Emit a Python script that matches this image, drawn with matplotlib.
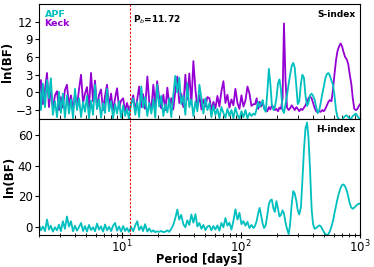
import numpy as np
import matplotlib
matplotlib.use("Agg")
import matplotlib.pyplot as plt

# period grid (days): noisy short-period part and long-period part
period_short = [2.00, 2.08, 2.16, 2.25, 2.34, 2.43, 2.52, 2.62, 2.73, 2.84,
                2.95, 3.06, 3.18, 3.31, 3.44, 3.58, 3.72, 3.87, 4.02, 4.18,
                4.35, 4.52, 4.70, 4.88, 5.07, 5.27, 5.48, 5.70, 5.92, 6.16,
                6.40, 6.65, 6.92, 7.19, 7.47, 7.77, 8.08, 8.40, 8.73, 9.07,
                9.43, 9.80, 10.2, 10.6, 11.0, 11.4, 11.9, 12.4, 12.9, 13.4,
                13.9, 14.5, 15.0, 15.6, 16.3, 16.9, 17.6, 18.3, 19.0, 19.7,
                20.5, 21.3, 22.2, 23.1, 24.0, 24.9, 25.9, 26.9, 28.0, 29.1,
                30.2, 31.4, 32.7, 34.0, 35.3, 36.7, 38.2, 39.7, 41.3, 42.9,
                44.6, 46.4, 48.2, 50.1, 52.1, 54.2, 56.3, 58.5, 60.8, 63.2,
                65.7, 68.3, 71.0, 73.8, 76.7, 79.7, 82.9, 86.1, 89.5, 93.1,
                96.8, 100.6, 104.6, 108.7, 113, 117.5, 122.1, 127]
period_long = [131, 135, 139, 143, 147, 152, 156, 161, 166, 171,
               176, 181, 187, 192, 198, 204, 210, 216, 223, 229,
               236, 243, 251, 258, 266, 274, 282, 291, 299, 308,
               318, 327, 337, 347, 358, 368, 379, 391, 402, 414,
               427, 440, 453, 466, 480, 495, 510, 525, 541, 557,
               574, 591, 608, 627, 645, 665, 685, 705, 726, 748,
               771, 794, 818, 842, 867, 893, 920, 948, 976, 1000]

# S-index, APF
s_apf_short = [2.4, -3.0, 1.5, -2.5, 2.1, -1.0, 2.4, -3.8, -1.5, -4.2,
               0.1, -3.5, -0.2, -4.3, -0.5, -3.6, -1.2, -4.4, 0.6, -3.0,
               -1.0, -4.2, -1.6, -3.3, -0.6, -4.4, -1.4, -3.8, 1.3, -2.8,
               -1.2, -4.3, -1.8, -3.5, 0.6, -3.2, -1.5, -4.4, -2.0, -3.6,
               -1.5, -4.3, -2.2, -4.0, -2.8, -4.5, -2.0, -1.0, -3.8, -1.6,
               -4.2, 1.0, -2.6, -0.8, -4.0, -1.8, -3.6, -1.2, -4.3, 1.3,
               -2.4, -0.6, -4.0, -2.0, -3.4, -1.0, -4.2, -0.5, 2.8, 0.0,
               2.5, -2.0, -0.6, -3.8, 1.5, -2.5, -1.2, -4.0, -1.5, -3.2,
               1.3, -1.0, -3.6, -1.0, -3.0, -1.8, -4.2, -2.2, -3.8, -2.8,
               -4.4, -2.5, -3.5, -4.3, -2.8, -4.0, -3.0, -4.4, -2.6, -3.8,
               -4.5, -3.2, -4.2, -3.0, -4.4, -3.5, -4.0, -3.6]
s_apf_long = [-3.8, -2.8, -1.6, -2.5, -2.0, -1.3, -2.8, -3.3, 0.0, 4.0,
              1.5, -2.0, -3.0, -2.5, -1.0, 1.5, 2.2, 0.5, -3.0, -3.5,
              -2.0, -0.5, 1.5, 3.0, 4.5, 5.0, 4.2, 1.0, -2.0, -1.5,
              1.5, 3.0, 2.5, -0.5, -2.3, -1.8, -0.5, -0.2, -0.6, -1.2,
              -2.5, -3.5, -3.0, -1.8, -0.3, 1.0, 2.4, 3.1, 3.3, 2.8,
              2.0, 1.3, -0.5, -3.0, -4.2, -4.6, -4.8, -4.6, -4.3, -4.0,
              -3.9, -4.2, -4.5, -4.4, -4.0, -3.8, -3.6, -4.0, -4.4, -4.5]

# S-index, Keck
s_keck_short = [-1.0, 2.1, -2.0, 0.5, 3.3, -2.5, 0.8, -2.8, -0.5, 0.2,
                -3.0, -0.8, -2.6, 0.4, 1.3, -2.2, -0.5, -3.0, -0.3, -2.4,
                0.6, 3.0, -1.8, -0.2, 0.9, -2.6, 3.3, -1.5, 2.0, -2.8,
                -0.4, 0.5, -3.0, -0.6, 1.3, -2.4, -0.2, -3.1, -1.0, 0.7,
                -2.7, -1.4, -1.0, -3.2, -1.8, -3.0, -2.0, -0.5, -3.1, -1.2,
                1.0, -2.5, -0.3, -2.8, 2.7, -1.6, -2.9, 1.3, -2.2, 1.9,
                -1.0, -2.7, -0.4, -3.0, 0.8, -2.3, -1.0, -2.9, 0.2, 2.7,
                -1.8, -0.2, -2.5, 3.0, -1.2, 3.2, -2.0, 5.3, 0.5, -2.6,
                -0.5, -2.9, -1.2, -2.4, -0.8, -1.0, -3.0, -1.6, -2.7, -0.6,
                -2.4, 0.2, 1.9, -1.8, -0.4, -2.6, -1.2, -2.2, 0.6, -1.8,
                -2.8, -0.5, -2.4, -1.4, 1.0, -0.2, -2.3, -2.0]
s_keck_long = [-2.0, -1.0, -2.8, -1.6, -2.4, -1.8, -2.6, -3.0, -3.2, -2.5,
               -2.9, -2.2, -2.5, -3.0, -2.8, -3.2, -2.6, -2.8, -1.0, 11.7,
               2.0, -2.6, -3.0, -2.7, -2.2, -2.6, -3.0, -2.5, -2.8, -3.2,
               -2.8, -3.0, -2.6, -2.2, -1.6, -1.0, -0.7, -1.0, -1.8, -2.6,
               -3.2, -3.4, -3.2, -3.3, -3.0, -3.2, -2.8, -2.2, -1.6, -1.3,
               -1.5, 0.5, 3.0, 5.5, 7.0, 7.8, 8.3, 7.8, 6.8, 6.0,
               5.6, 4.8, 3.0, 1.5, -1.0, -2.8, -3.0, -2.8, -2.3, -2.0]

# H-index, APF
h_apf_short = [1.7, -2.0, 0.5, -2.5, 5.0, -1.5, 1.0, -2.8, 0.0, -2.0,
               1.7, -2.5, 3.9, -1.0, 7.0, 0.5, 3.9, -2.6, 1.0, -2.2,
               0.2, 2.8, -2.4, 0.8, -2.8, 1.5, -1.8, 0.0, -2.6, 2.4,
               -1.5, 0.6, -2.8, 1.8, -2.0, 0.3, -2.5, 1.0, 2.8, -2.2,
               0.5, -2.8, 0.8, -2.4, -0.5, -3.0, 0.2, -2.6, 1.2, 3.9,
               -1.8, 0.6, -2.5, 2.0, -2.8, -0.8, -3.0, -2.0, -3.2, -2.6,
               -3.0, -2.4, -3.2, -2.8, -2.0, -3.0, -1.0, 1.5, 6.0, 11.5,
               5.0, 8.0, 2.0, 0.0, 4.5, 1.5, 8.3, 3.0, 8.5, 0.5,
               2.8, -1.0, 1.5, -1.8, 0.5, 1.0, -2.0, 0.8, -1.5, 1.2,
               -2.2, 2.8, 0.0, 6.0, 1.0, 3.0, -1.5, 4.0, 11.7, 5.0,
               9.4, 2.0, 4.0, 1.0, 3.5, -0.5, 1.5, -0.5]
h_apf_long = [1.0, 4.0, 9.0, 12.6, 8.0, 2.0, -0.5, 1.5, 8.0, 15.0,
              17.5, 18.0, 12.0, 10.0, 17.0, 12.0, 7.0, 8.0, 11.0, 9.0,
              3.0, -1.0, -4.5, 2.0, 15.0, 23.5, 22.0, 17.0, 11.0, 8.3,
              13.0, 30.0, 50.0, 64.0, 68.0, 58.0, 38.0, 12.0, 2.0, -1.0,
              -0.5, 0.5, 1.2, 0.8, -1.0, -3.0, -4.5, -5.0, -4.5, -2.5,
              0.5, 4.0, 9.0, 14.0, 18.5, 22.5, 25.5, 27.5, 27.8, 26.5,
              24.0, 20.0, 15.5, 12.8, 12.0, 12.8, 13.8, 14.8, 15.4, 15.2]

p_b = 11.72

period = np.array(period_short + period_long)
s_apf = np.array(s_apf_short + s_apf_long)
s_keck = np.array(s_keck_short + s_keck_long)
h_apf = np.array(h_apf_short + h_apf_long)

apf_col = "#00bfbf"
keck_col = "#9400d3"

fig, (ax1, ax2) = plt.subplots(2, 1, sharex=True, figsize=(3.74, 2.67), dpi=100)
fig.subplots_adjust(left=0.104, right=0.963, top=0.985, bottom=0.12, hspace=0)

ax1.plot(period, s_keck, color=keck_col, lw=1.3, label="Keck")
ax1.plot(period, s_apf, color=apf_col, lw=1.3, label="APF")
ax1.axvline(p_b, color="red", ls="--", lw=0.8, dashes=(2, 1.5))
ax1.set_xscale("log")
ax1.set_xlim(2, 1000)
ax1.set_ylim(-4.6, 15)
ax1.set_yticks([-3, 0, 3, 6, 9, 12])
ax1.set_ylabel("ln(BF)", fontsize=8.5, fontweight="bold", labelpad=1)
ax1.text(12.3, 12.4, r"P$_b$=11.72", fontsize=6.5, fontweight="bold", va="center")
ax1.text(0.985, 0.91, "S-index", transform=ax1.transAxes, fontsize=6.5,
         fontweight="bold", ha="right", va="center")
h, l = ax1.get_legend_handles_labels()
leg = ax1.legend(h[::-1], l[::-1], loc="upper left", frameon=False, handlelength=0,
                 handletextpad=0, labelcolor="linecolor", borderaxespad=0.2,
                 labelspacing=0.05, prop={"size": 6.8, "weight": "bold"})
for hd in leg.legend_handles:
    hd.set_visible(False)
ax1.tick_params(axis="x", which="both", direction="in", labelbottom=False)
ax1.tick_params(axis="x", which="major", length=5)
ax1.tick_params(axis="x", which="minor", length=3)
ax1.tick_params(axis="y", labelsize=8.5, length=3, pad=1.5)

ax2.plot(period, h_apf, color=apf_col, lw=1.3)
ax2.axvline(p_b, color="red", ls="--", lw=0.8, dashes=(2, 1.5))
ax2.set_ylim(-5, 70)
ax2.set_yticks([0, 20, 40, 60])
ax2.set_ylabel("ln(BF)", fontsize=8.5, fontweight="bold", labelpad=1)
ax2.set_xlabel("Period [days]", fontsize=8.3, fontweight="bold", labelpad=-1.5)
ax2.text(0.985, 0.91, "H-index", transform=ax2.transAxes, fontsize=6.5,
         fontweight="bold", ha="right", va="center")
ax2.tick_params(axis="x", which="both", direction="inout", labelsize=8.5, pad=0)
ax2.tick_params(axis="x", which="major", length=5)
ax2.tick_params(axis="x", which="minor", length=3.5)
ax2.tick_params(axis="y", labelsize=8.5, length=3, pad=1.5)

fig.savefig("out.png", dpi=100)
